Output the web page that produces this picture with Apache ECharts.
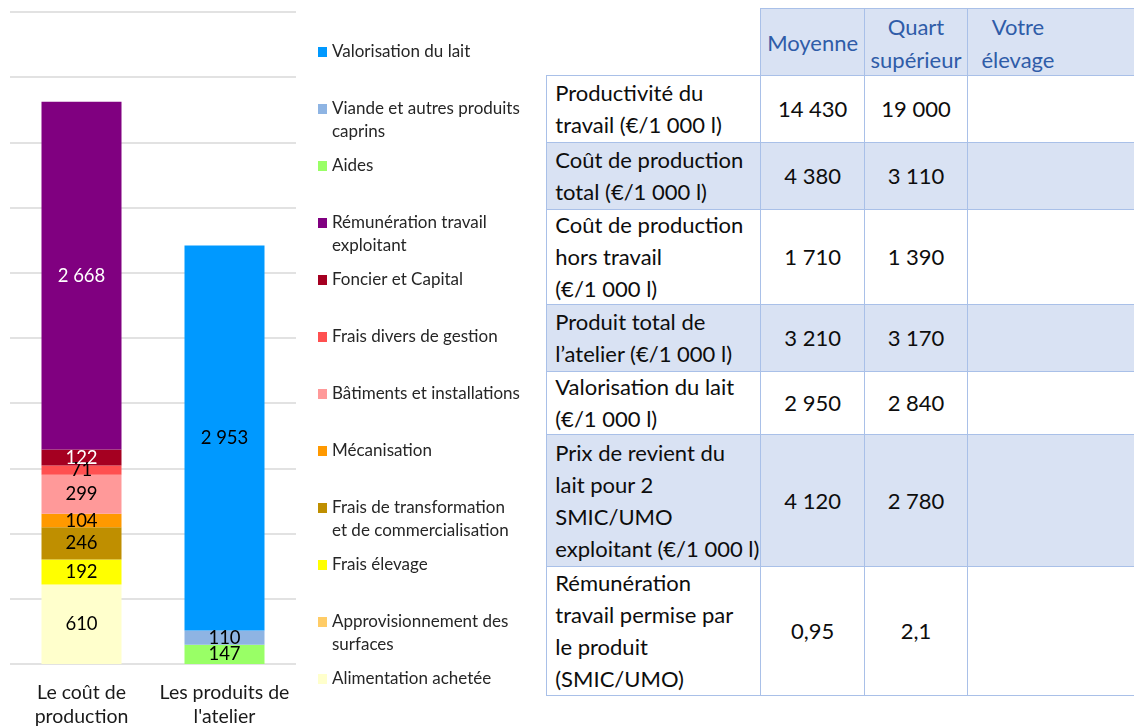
<!DOCTYPE html>
<html>
<head>
<meta charset="utf-8">
<script src="https://cdn.jsdelivr.net/npm/echarts@6/dist/echarts.min.js"></script>
<style>
  html, body { margin: 0; padding: 0; width: 1134px; height: 727px; overflow: hidden; background: #fff; }
  #chart { position: absolute; left: 0; top: 0; width: 1134px; height: 727px; }
  #table { position: absolute; left: 547px; top: 9px; width: 700px; height: 700px; font-family: Lato, "Open Sans", sans-serif; }
  .cell { position: absolute; box-sizing: border-box; border: 1.5px solid #A9C0E8; display: flex; flex-direction: column; justify-content: center; color: #0d0d0d; font-size: 22px; line-height: 32px; white-space: nowrap; }
  .lab { align-items: flex-start; padding-left: 8px; }
  .num { align-items: center; text-align: center; }
  .hdr { align-items: center; text-align: center; color: #2F5CA8; line-height: 33px; }
  .last { align-items: flex-start; }
  .last > div { width: 100px; text-align: center; }
  .blue { background: #D9E2F3; }
  .white { background: #fff; }
</style>
</head>
<body>
<div id="chart"></div>
<div id="table"></div>
<script>
// ---------- DATA ----------
const categories = ['Le coût de\nproduction', "Les produits de\nl'atelier"];

const seriesNames = [
  'Aides',
  'Viande et autres produits caprins',
  'Valorisation du lait',
  'Alimentation achetée',
  'Approvisionnement des surfaces',
  'Frais élevage',
  'Frais de transformation et de commercialisation',
  'Mécanisation',
  'Bâtiments et installations',
  'Frais divers de gestion',
  'Foncier et Capital',
  'Rémunération travail exploitant'
];
const coutValues    = [null, null, null, 610, 0, 192, 246, 104, 299, 71, 122, 2668];
const produitValues = [147, 110, 2953, null, null, null, null, null, null, null, null, null];

const legendOrder = [
  'Valorisation du lait',
  'Viande et autres produits caprins',
  'Aides',
  'Rémunération travail exploitant',
  'Foncier et Capital',
  'Frais divers de gestion',
  'Bâtiments et installations',
  'Mécanisation',
  'Frais de transformation et de commercialisation',
  'Frais élevage',
  'Approvisionnement des surfaces',
  'Alimentation achetée'
];
const legendLines = {
  'Viande et autres produits caprins': ['Viande et autres produits', 'caprins'],
  'Rémunération travail exploitant': ['Rémunération travail', 'exploitant'],
  'Frais de transformation et de commercialisation': ['Frais de transformation', 'et de commercialisation'],
  'Approvisionnement des surfaces': ['Approvisionnement des', 'surfaces']
};

const tableHeaders = ['Moyenne', 'Quart\nsupérieur', 'Votre\nélevage'];
const tableRowLabels = [
  'Productivité du\ntravail (€/1 000 l)',
  'Coût de production\ntotal (€/1 000 l)',
  'Coût de production\nhors travail\n(€/1 000 l)',
  'Produit total de\nl’atelier (€/1 000 l)',
  'Valorisation du lait\n(€/1 000 l)',
  'Prix de revient du\nlait pour 2\nSMIC/UMO\nexploitant (€/1 000 l)',
  'Rémunération\ntravail permise par\nle produit\n(SMIC/UMO)'
];
const moyenneValues = [14430, 4380, 1710, 3210, 2950, 4120, 0.95];
const quartValues   = [19000, 3110, 1390, 3170, 2840, 2780, 2.1];
const votreValues   = [null, null, null, null, null, null, null];

// ---------- STYLE ----------
const seriesColors = ['#99FF66', '#8EB4E3', '#0099FF', '#FFFFCC', '#FFCC66', '#FFFF00', '#BF8F00', '#FF9900', '#FF9999', '#FF5050', '#A50021', '#800080'];
const labelColors  = ['#000', '#000', '#000', '#000', '#000', '#000', '#000', '#000', '#000', '#000', '#fff', '#fff'];
const FONT = 'Lato, "Open Sans", sans-serif';

function fmt(v) {
  if (v === null || v === undefined) return '';
  const neg = v < 0; v = Math.abs(v);
  let s = String(v);
  let [ip, dp] = s.split('.');
  ip = ip.replace(/\B(?=(\d{3})+(?!\d))/g, '\u00a0');
  return (neg ? '-' : '') + ip + (dp ? ',' + dp : '');
}

// ---------- CHART ----------
const chart = echarts.init(document.getElementById('chart'), null, { renderer: 'canvas' });
const series = seriesNames.map((name, i) => ({
  name: name,
  type: 'bar',
  stack: 'total',
  barWidth: 80,
  data: [coutValues[i], produitValues[i]],
  itemStyle: { color: seriesColors[i] },
  label: {
    show: true,
    position: 'inside',
    color: labelColors[i],
    fontFamily: FONT,
    fontSize: 18.5,
    formatter: p => (p.value ? fmt(p.value) : '')
  },
  emphasis: { disabled: true }
}));

chart.setOption({
  animation: false,
  textStyle: { fontFamily: FONT },
  grid: { left: 10, top: 12, width: 286, height: 652, containLabel: false, outerBoundsMode: 'none' },
  xAxis: {
    type: 'category',
    data: categories,
    axisLine: { show: false },
    axisTick: { show: false },
    axisLabel: { color: '#1a1a1a', fontSize: 19.5, lineHeight: 24.5, margin: 16, fontFamily: FONT, interval: 0 }
  },
  yAxis: {
    type: 'value',
    min: 0, max: 5000, interval: 500,
    axisLabel: { show: false },
    axisLine: { show: false },
    axisTick: { show: false },
    splitLine: { lineStyle: { color: '#D9D9D9', width: 1.5 } }
  },
  legend: {
    orient: 'vertical',
    left: 318,
    top: 17.5,
    padding: 0,
    itemWidth: 9,
    itemHeight: 10,
    itemGap: -12,
    icon: 'rect',
    selectedMode: false,
    data: legendOrder,
    textStyle: { color: '#262626', fontSize: 17, lineHeight: 23, fontFamily: FONT },
    formatter: function (name) {
      const lines = legendLines[name] || [name];
      return '\u00a0\n' + lines[0] + '\n' + (lines[1] || '\u00a0');
    }
  },
  series: series
});

// ---------- TABLE ----------
const colX = [0, 214, 317.3, 420.7, 650];
const rowY = [0, 67, 133.7, 200.3, 296, 362.7, 426, 557.7, 686];
const tbl = document.getElementById('table');
function addCell(c, r, html, cls) {
  const d = document.createElement('div');
  d.className = 'cell ' + cls + (c === 3 ? ' last' : '');
  d.style.left = (colX[c] - 0.75) + 'px';
  d.style.top = (rowY[r] - 0.75) + 'px';
  d.style.width = (colX[c + 1] - colX[c] + 1.5) + 'px';
  d.style.height = (rowY[r + 1] - rowY[r] + 1.5) + 'px';
  d.innerHTML = html;
  tbl.appendChild(d);
}
const esc = s => s.split('\n').map(t => '<div>' + t + '</div>').join('');
tableHeaders.forEach((h, i) => addCell(i + 1, 0, esc(h), 'hdr blue'));
tableRowLabels.forEach((lab, r) => {
  const bg = (r % 2 === 1) ? 'blue' : 'white';
  addCell(0, r + 1, esc(lab), 'lab ' + bg);
  addCell(1, r + 1, '<div>' + fmt(moyenneValues[r]) + '</div>', 'num ' + bg);
  addCell(2, r + 1, '<div>' + fmt(quartValues[r]) + '</div>', 'num ' + bg);
  addCell(3, r + 1, '<div>' + fmt(votreValues[r]) + '</div>', 'num ' + bg);
});
</script>
</body>
</html>
